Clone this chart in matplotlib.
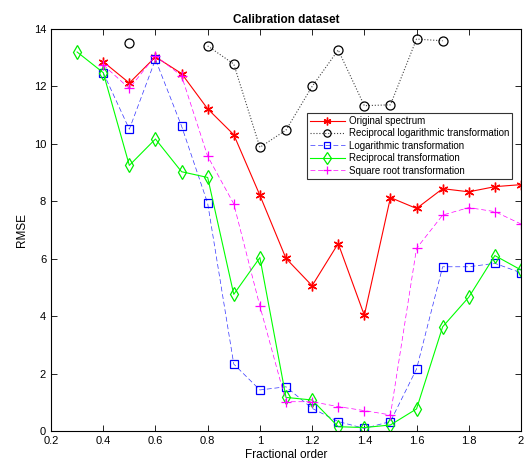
import numpy as np
import matplotlib
matplotlib.use("Agg")
import matplotlib.pyplot as plt

plt.rcParams['font.family'] = ['Liberation Sans', 'DejaVu Sans']

order = [0.3, 0.4, 0.5, 0.6, 0.7, 0.8, 0.9, 1.0, 1.1, 1.2, 1.3, 1.4, 1.5, 1.6, 1.7, 1.8, 1.9, 2.0]
nan = np.nan
original = [nan, 12.86, 12.12, 13.03, 12.45, 11.22, 10.32, 8.21, 6.01, 5.06, 6.53, 4.03, 8.13, 7.75, 8.44, 8.33, 8.51, 8.58]
recip_log = [nan, nan, 13.53, nan, nan, 13.41, 12.78, 9.88, 10.48, 12.00, 13.27, 11.33, 11.36, 13.65, 13.59, nan, nan, nan]
logarithmic = [nan, 12.48, 10.51, 12.94, 10.62, 7.93, 2.33, 1.43, 1.54, 0.79, 0.33, 0.09, 0.33, 2.16, 5.72, 5.72, 5.84, 5.51]
reciprocal = [13.20, 12.48, 9.25, 10.17, 9.03, 8.83, 4.76, 6.04, 1.17, 1.08, 0.15, 0.12, 0.21, 0.77, 3.63, 4.66, 6.11, 5.61]
square_root = [nan, 12.75, 11.93, 13.07, 12.37, 9.57, 7.91, 4.35, 1.02, 1.02, 0.85, 0.71, 0.56, 6.36, 7.52, 7.78, 7.64, 7.21]

labels = ['Original spectrum', 'Reciprocal logarithmic transformation',
          'Logarithmic transformation', 'Reciprocal transformation',
          'Square root transformation']

fig = plt.figure(figsize=(5.28, 4.65), dpi=100)
ax = fig.add_axes([0.0966, 0.0731, 0.8901, 0.8645])

lw = 0.8
asterisk = (6, 2, 0)
ax.plot(order, original, color='red', linestyle='-', marker=asterisk, markersize=7,
        markeredgecolor='red', markeredgewidth=1.0, lw=lw, label=labels[0])
ax.plot(order, recip_log, color='#444444', linestyle=':', marker='o', markersize=6.5,
        markerfacecolor='none', markeredgecolor='black', markeredgewidth=0.9, lw=lw,
        label=labels[1])
ax.plot(order, logarithmic, color='#3333ff', linestyle=(0, (7, 4)), marker='s', markersize=5.5,
        markerfacecolor='none', markeredgecolor='blue', markeredgewidth=0.9, lw=0.5,
        label=labels[2])
ax.plot(order, reciprocal, color='#00ff00', linestyle='-', marker='d', markersize=7.5,
        markerfacecolor='none', markeredgecolor='#00ee00', markeredgewidth=0.9, lw=lw,
        label=labels[3])
ax.plot(order, square_root, color='magenta', linestyle=(0, (7, 4)), marker='+', markersize=7,
        markeredgecolor='magenta', markeredgewidth=0.9, lw=0.5, label=labels[4])

ax.set_xlim(0.2, 2.0)
ax.set_ylim(0, 14)
ax.set_xticks(np.arange(0.2, 2.01, 0.2))
ax.set_xticklabels(['0.2', '0.4', '0.6', '0.8', '1', '1.2', '1.4', '1.6', '1.8', '2'])
ax.set_yticks(np.arange(0, 15, 2))
ax.tick_params(direction='in', top=True, right=True, labelsize=8, length=4, width=0.6)
for s in ax.spines.values():
    s.set_linewidth(0.8)

ax.set_title('Calibration dataset', fontsize=8.5, fontweight='bold', pad=4)
ax.set_xlabel('Fractional order', fontsize=8.5, labelpad=2)
ax.set_ylabel('RMSE', fontsize=8.5, labelpad=4)

leg = ax.legend(loc='upper right', bbox_to_anchor=(0.981, 0.791), borderaxespad=0,
                fontsize=7, fancybox=False, framealpha=1, edgecolor='#333333',
                handlelength=3.6, handletextpad=0.4, labelspacing=0.25, borderpad=0.3,
                markerscale=0.8)
leg.get_frame().set_linewidth(0.8)

fig.savefig('out.png', dpi=100)
